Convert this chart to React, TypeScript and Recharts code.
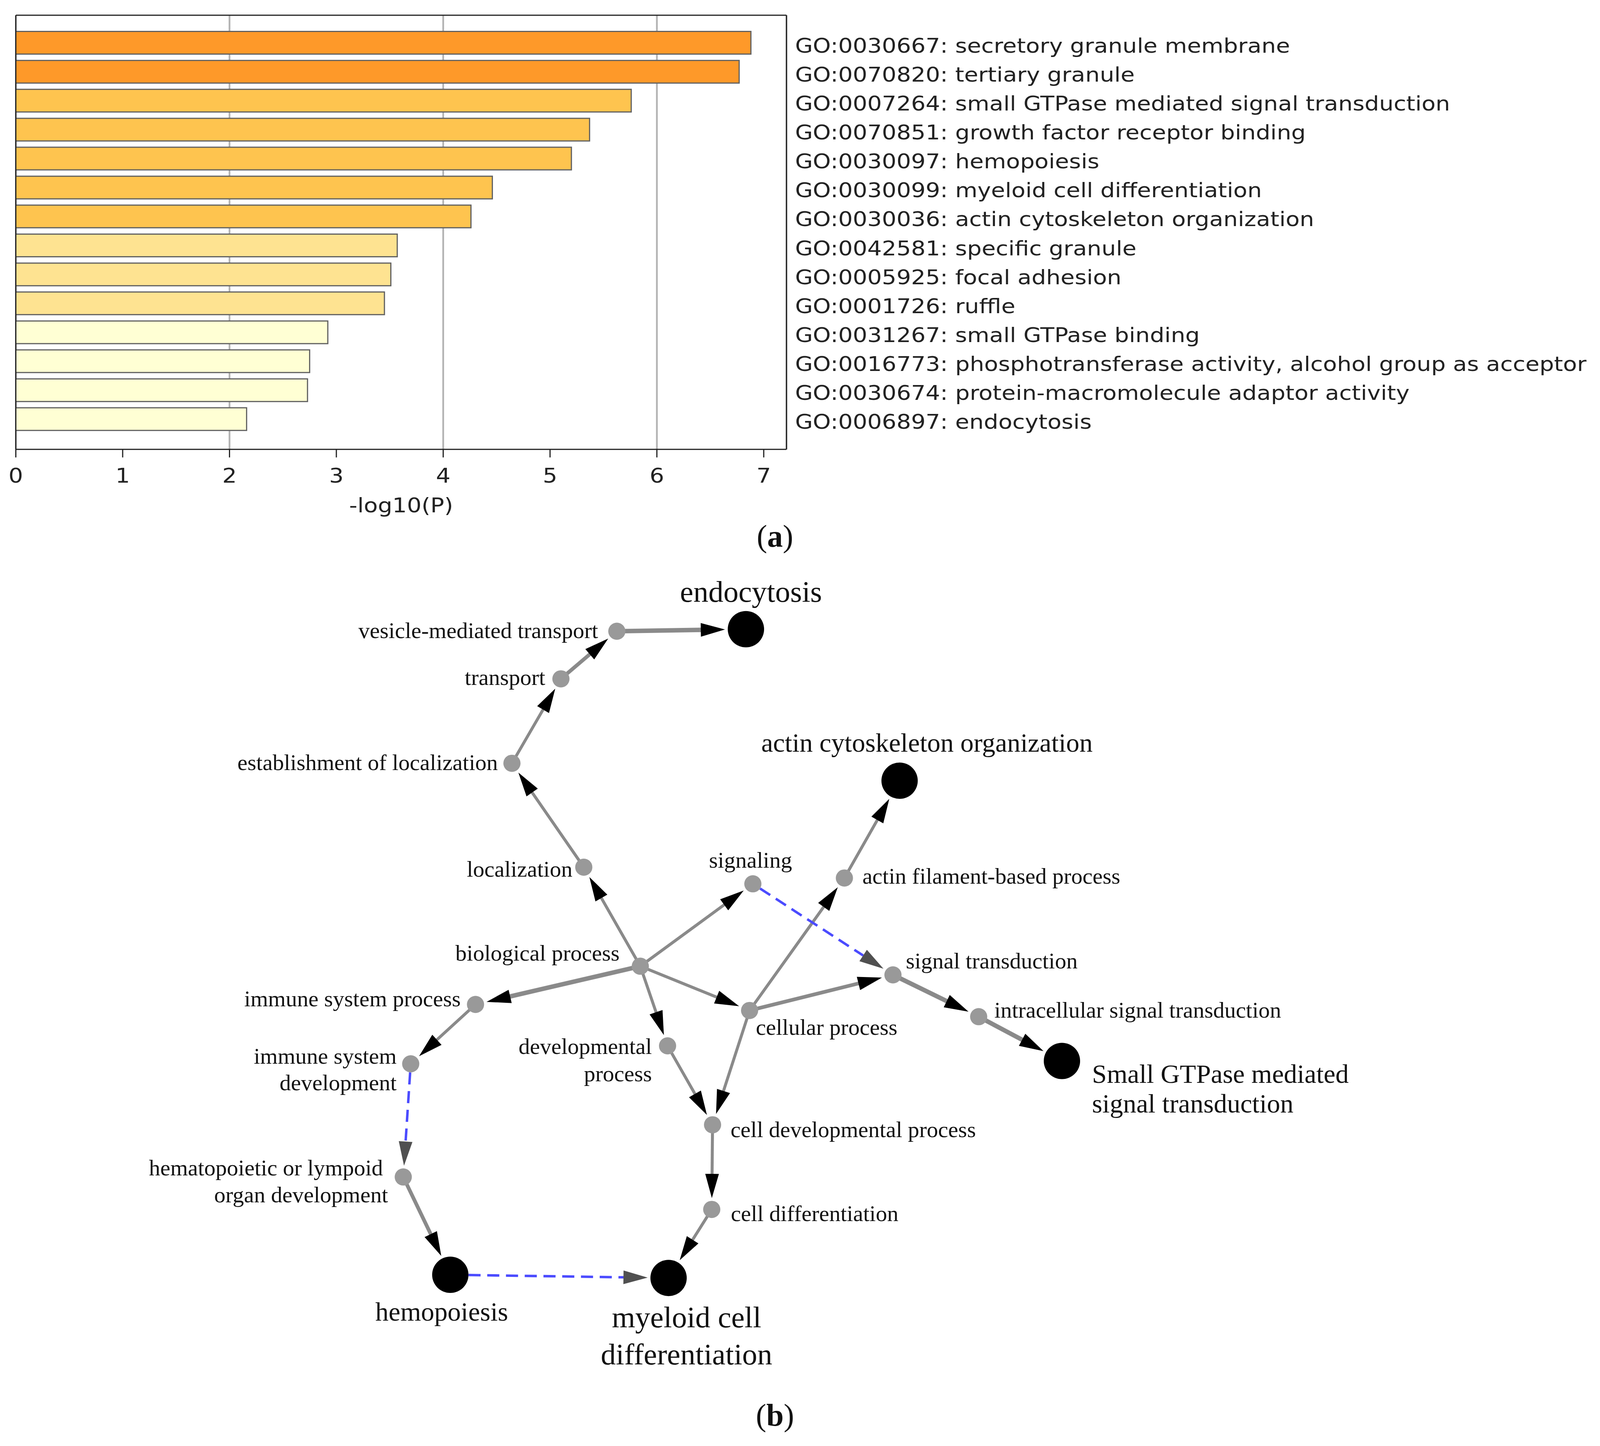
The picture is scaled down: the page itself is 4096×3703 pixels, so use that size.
import React from "react";
import { Bar, BarChart, CartesianGrid, Cell, Label, Scatter, ScatterChart, XAxis, YAxis } from "recharts";

// ---- panel (a): enrichment bars ----
const goTerms = [
  "GO:0030667: secretory granule membrane",
  "GO:0070820: tertiary granule",
  "GO:0007264: small GTPase mediated signal transduction",
  "GO:0070851: growth factor receptor binding",
  "GO:0030097: hemopoiesis",
  "GO:0030099: myeloid cell differentiation",
  "GO:0030036: actin cytoskeleton organization",
  "GO:0042581: specific granule",
  "GO:0005925: focal adhesion",
  "GO:0001726: ruffle",
  "GO:0031267: small GTPase binding",
  "GO:0016773: phosphotransferase activity, alcohol group as acceptor",
  "GO:0030674: protein-macromolecule adaptor activity",
  "GO:0006897: endocytosis",
];
const logP = [6.88, 6.77, 5.76, 5.37, 5.2, 4.46, 4.26, 3.57, 3.51, 3.45, 2.92, 2.75, 2.73, 2.16];
const xTicks = [0, 1, 2, 3, 4, 5, 6, 7];
const gridTicks = [2, 4, 6];
const xMax = 7.213;

// ---- panel (b): GO hierarchy ----
const graphNodes = [
  { id: "endocytosis", x: 731, y: 617 },
  { id: "vesicle-mediated transport", x: 604.5, y: 619 },
  { id: "transport", x: 549.7, y: 665.7 },
  { id: "establishment of localization", x: 501.7, y: 748.5 },
  { id: "localization", x: 572.1, y: 850.4 },
  { id: "signaling", x: 737.8, y: 866.7 },
  { id: "biological process", x: 627.5, y: 947.5 },
  { id: "immune system process", x: 466, y: 985 },
  { id: "immune system development", x: 402.5, y: 1043.2 },
  { id: "developmental process", x: 654.2, y: 1025.6 },
  { id: "cellular process", x: 734.6, y: 990.9 },
  { id: "actin cytoskeleton organization", x: 881.6, y: 765.6 },
  { id: "actin filament-based process", x: 827.5, y: 861 },
  { id: "signal transduction", x: 875.1, y: 956 },
  { id: "intracellular signal transduction", x: 959.1, y: 997 },
  { id: "Small GTPase mediated signal transduction", x: 1040.7, y: 1040.4 },
  { id: "cell developmental process", x: 698.3, y: 1103 },
  { id: "cell differentiation", x: 697.5, y: 1186 },
  { id: "hematopoietic or lympoid organ development", x: 395.2, y: 1154.2 },
  { id: "hemopoiesis", x: 441.3, y: 1250.1 },
  { id: "myeloid cell differentiation", x: 655.2, y: 1253.2 },
];

const enrichedTerms = [
  "endocytosis",
  "actin cytoskeleton organization",
  "Small GTPase mediated signal transduction",
  "hemopoiesis",
  "myeloid cell differentiation",
];

// [source, target, relation]
const graphEdges: [string, string, string][] = [
  ["vesicle-mediated transport", "endocytosis", "is_a"],
  ["transport", "vesicle-mediated transport", "is_a"],
  ["establishment of localization", "transport", "is_a"],
  ["localization", "establishment of localization", "is_a"],
  ["biological process", "localization", "is_a"],
  ["biological process", "signaling", "is_a"],
  ["biological process", "immune system process", "is_a"],
  ["biological process", "developmental process", "is_a"],
  ["biological process", "cellular process", "is_a"],
  ["immune system process", "immune system development", "is_a"],
  ["hematopoietic or lympoid organ development", "hemopoiesis", "is_a"],
  ["developmental process", "cell developmental process", "is_a"],
  ["cellular process", "cell developmental process", "is_a"],
  ["cellular process", "actin filament-based process", "is_a"],
  ["cellular process", "signal transduction", "is_a"],
  ["actin filament-based process", "actin cytoskeleton organization", "is_a"],
  ["signal transduction", "intracellular signal transduction", "is_a"],
  ["intracellular signal transduction", "Small GTPase mediated signal transduction", "is_a"],
  ["cell developmental process", "cell differentiation", "is_a"],
  ["cell differentiation", "myeloid cell differentiation", "is_a"],
  ["signaling", "signal transduction", "related"],
  ["immune system development", "hematopoietic or lympoid organ development", "related"],
  ["hemopoiesis", "myeloid cell differentiation", "related"],
];

// ---- styling ----
const SANS = "DejaVu Sans";
const SERIF = "Liberation Serif";
const STRETCH = 1.15;
const FRAME = "#222";
const SMALL_R = 22;
const BIG_R = 46.5;
const ARROW_LEN = 62;
const ARROW_HALF = 17.5;
const ARROW_GAP = 7;

const heavyEdges = [
  "vesicle-mediated transport>endocytosis",
  "biological process>immune system process",
  "signal transduction>intracellular signal transduction",
  "intracellular signal transduction>Small GTPase mediated signal transduction",
];
const mediumEdges = [
  "transport>vesicle-mediated transport",
  "hematopoietic or lympoid organ development>hemopoiesis",
  "cellular process>signal transduction",
];

type LabelSpec = { lines: string[]; anchor: "start" | "middle" | "end"; dx: number[]; dy: number; lh?: number; size?: number };

const labelLayout: Record<string, LabelSpec> = {
  endocytosis: { lines: ["endocytosis"], anchor: "middle", dx: [13], dy: -70, size: 77 },
  "vesicle-mediated transport": { lines: ["vesicle-mediated transport"], anchor: "end", dx: [-48], dy: 18 },
  transport: { lines: ["transport"], anchor: "end", dx: [-40], dy: 16 },
  "establishment of localization": { lines: ["establishment of localization"], anchor: "end", dx: [-36], dy: 17 },
  localization: { lines: ["localization"], anchor: "end", dx: [-29], dy: 24 },
  signaling: { lines: ["signaling"], anchor: "middle", dx: [-6], dy: -41 },
  "biological process": { lines: ["biological process"], anchor: "end", dx: [-53], dy: -14 },
  "immune system process": { lines: ["immune system process"], anchor: "end", dx: [-38], dy: 5 },
  "immune system development": { lines: ["immune system", "development"], anchor: "end", dx: [-36, -36], dy: 0, lh: 68 },
  "developmental process": { lines: ["developmental", "process"], anchor: "end", dx: [-40, -40], dy: 21, lh: 70 },
  "cellular process": { lines: ["cellular process"], anchor: "start", dx: [16], dy: 62 },
  "actin cytoskeleton organization": { lines: ["actin cytoskeleton organization"], anchor: "middle", dx: [70], dy: -74, size: 68 },
  "actin filament-based process": { lines: ["actin filament-based process"], anchor: "start", dx: [46], dy: 15 },
  "signal transduction": { lines: ["signal transduction"], anchor: "start", dx: [33], dy: -17 },
  "intracellular signal transduction": { lines: ["intracellular signal transduction"], anchor: "start", dx: [40], dy: 2 },
  "Small GTPase mediated signal transduction": {
    lines: ["Small GTPase mediated", "signal transduction"],
    anchor: "start",
    dx: [77, 77],
    dy: 56,
    lh: 76,
    size: 68,
  },
  "cell developmental process": { lines: ["cell developmental process"], anchor: "start", dx: [46], dy: 32 },
  "cell differentiation": { lines: ["cell differentiation"], anchor: "start", dx: [49], dy: 30 },
  "hematopoietic or lympoid organ development": {
    lines: ["hematopoietic or lympoid", "organ development"],
    anchor: "end",
    dx: [-52, -39],
    dy: -4,
    lh: 68.5,
  },
  hemopoiesis: { lines: ["hemopoiesis"], anchor: "middle", dx: [-22], dy: 117, size: 68 },
  "myeloid cell differentiation": {
    lines: ["myeloid cell", "differentiation"],
    anchor: "middle",
    dx: [46, 46],
    dy: 126,
    lh: 95,
    size: 77,
  },
};

const barRows = goTerms.map((term, i) => ({ term, logp: logP[i] }));
const nodeById: Record<string, { id: string; x: number; y: number }> = {};
graphNodes.forEach((n) => (nodeById[n.id] = n));

function binColor(v: number) {
  if (v >= 6) return "#fe9929";
  if (v >= 4) return "#fec44f";
  if (v >= 3) return "#fee391";
  return "#ffffd4";
}

function radiusOf(id: string) {
  return enrichedTerms.includes(id) ? BIG_R : SMALL_R;
}

function XTick({ x, y, payload }: any) {
  return (
    <g transform={`translate(${x},${y})`}>
      <text x={0} y={0} dy={37.5} textAnchor="middle" fontSize={51} fontFamily={SANS} fill="#222" transform={`scale(${STRETCH},1)`}>
        {payload.value}
      </text>
    </g>
  );
}

// grid-only axis: ticks must exist for the grid, but draw nothing
const blankTick = () => <g />;

function TermTick({ x, y, payload }: any) {
  return (
    <g transform={`translate(${x},${y})`}>
      <text x={0} y={0} dy={25} textAnchor="start" fontSize={51} fontFamily={SANS} fill="#222" transform={`scale(${STRETCH},1)`}>
        {payload.value}
      </text>
    </g>
  );
}

function AxisTitle({ viewBox }: any) {
  const vb = viewBox || { x: 0, y: 0, width: 0 };
  return (
    <g transform={`translate(${vb.x + vb.width / 2},${vb.y + 160.7})`}>
      <text x={0} y={0} textAnchor="middle" fontSize={51} fontFamily={SANS} fill="#222" transform={`scale(${STRETCH},1)`}>
        -log10(P)
      </text>
    </g>
  );
}

function edgeLine(edge: [string, string, string]) {
  const [src, tgt, relation] = edge;
  const key = `${src}>${tgt}`;
  const dashed = relation !== "is_a";
  const width = dashed ? 6.3 : heavyEdges.includes(key) ? 11.5 : mediumEdges.includes(key) ? 9.5 : 7.6;
  return (props: any) => {
    const pts = props.points || [];
    if (pts.length < 2) return <g />;
    const a = pts[0];
    const b = pts[1];
    const len = Math.hypot(b.x - a.x, b.y - a.y);
    const ux = (b.x - a.x) / len;
    const uy = (b.y - a.y) / len;
    const tipD = len - radiusOf(tgt) - ARROW_GAP;
    const baseD = tipD - ARROW_LEN;
    const startD = dashed ? radiusOf(src) : 0;
    const tx = a.x + ux * tipD;
    const ty = a.y + uy * tipD;
    const bx = a.x + ux * baseD;
    const by = a.y + uy * baseD;
    const nx = -uy * ARROW_HALF;
    const ny = ux * ARROW_HALF;
    return (
      <g>
        <line
          x1={a.x + ux * startD}
          y1={a.y + uy * startD}
          x2={a.x + ux * (baseD + (dashed ? 0 : 6))}
          y2={a.y + uy * (baseD + (dashed ? 0 : 6))}
          stroke={dashed ? "#4b4bff" : "#8a8a8a"}
          strokeWidth={width}
          strokeDasharray={dashed ? "31 17" : undefined}
        />
        <path
          d={`M${tx},${ty} L${bx + nx},${by + ny} L${bx - nx},${by - ny} Z`}
          fill={dashed ? "#505050" : "#000"}
        />
      </g>
    );
  };
}

function NodeShape({ cx, cy, payload }: any) {
  const big = enrichedTerms.includes(payload.id);
  const spec = labelLayout[payload.id];
  const size = spec?.size ?? 58;
  const lh = spec?.lh ?? 0;
  return (
    <g>
      <circle cx={cx} cy={cy} r={big ? BIG_R : SMALL_R} fill={big ? "#000" : "#999"} />
      {spec &&
        spec.lines.map((line, i) => (
          <text
            key={line}
            x={cx + spec.dx[i]}
            y={cy + spec.dy + i * lh}
            textAnchor={spec.anchor}
            fontSize={size}
            fontFamily={SERIF}
            fill="#111"
          >
            {line}
          </text>
        ))}
    </g>
  );
}

const hideShape = () => <g />;

export default function App() {
  return (
    <div style={{ position: "absolute", left: 0, top: 0, width: 4096, height: 3703, background: "#fff", overflow: "hidden" }}>
      <div style={{ position: "absolute", left: 0, top: 0 }}>
        <BarChart
          width={4096}
          height={1420}
          data={barRows}
          layout="vertical"
          barSize={58}
          margin={{ top: 38, right: 0, bottom: 0, left: 39.5 }}
        >
          <CartesianGrid xAxisId="top" yAxisId="frame" horizontal={false} stroke="#b3b3b3" strokeWidth={4.5} />
          <XAxis
            xAxisId="main"
            type="number"
            domain={[0, xMax]}
            allowDataOverflow
            ticks={xTicks}
            height={269.2}
            tickSize={20.6}
            tickMargin={26.6}
            tick={<XTick />}
            axisLine={{ stroke: FRAME, strokeWidth: 3 }}
            tickLine={{ stroke: FRAME, strokeWidth: 3 }}
          >
            <Label content={<AxisTitle />} />
          </XAxis>
          <XAxis
            xAxisId="top"
            orientation="top"
            type="number"
            domain={[0, xMax]}
            allowDataOverflow
            ticks={gridTicks}
            interval={0}
            height={1}
            tick={blankTick}
            tickLine={false}
            axisLine={{ stroke: FRAME, strokeWidth: 3 }}
          />
          <YAxis
            yAxisId="cat"
            orientation="right"
            type="category"
            dataKey="term"
            width={2082.6}
            padding={{ top: 33.6, bottom: 40.4 }}
            tickSize={0}
            tickMargin={22}
            tickLine={false}
            tick={<TermTick />}
            interval={0}
            axisLine={{ stroke: FRAME, strokeWidth: 3 }}
          />
          <YAxis
            yAxisId="frame"
            orientation="left"
            type="number"
            domain={[0, 1]}
            allowDataOverflow
            width={1}
            tick={false}
            tickLine={false}
            axisLine={{ stroke: FRAME, strokeWidth: 3 }}
          />
          <Bar dataKey="logp" xAxisId="main" yAxisId="cat" stroke="#606060" strokeWidth={3} isAnimationActive={false}>
            {barRows.map((row) => (
              <Cell key={row.term} fill={binColor(row.logp)} />
            ))}
          </Bar>
        </BarChart>
      </div>

      <div style={{ position: "absolute", left: 0, top: 0 }}>
        <ScatterChart width={4096} height={3703} margin={{ top: 0, right: 0, bottom: 0, left: 0 }}>
          <XAxis type="number" dataKey="x" domain={[0, 1568]} allowDataOverflow hide />
          <YAxis type="number" dataKey="y" domain={[0, 1418]} allowDataOverflow reversed hide />
          {graphEdges.map((e) => (
            <Scatter
              key={`${e[0]}>${e[1]}`}
              data={[nodeById[e[0]], nodeById[e[1]]]}
              line={edgeLine(e)}
              shape={hideShape}
              isAnimationActive={false}
            />
          ))}
          <Scatter data={graphNodes} shape={<NodeShape />} isAnimationActive={false} />
        </ScatterChart>
      </div>

      <svg width={4096} height={3703} style={{ position: "absolute", left: 0, top: 0, pointerEvents: "none" }}>
        <text x={1984} y={1400} textAnchor="middle" fontFamily={SERIF} fontSize={80} fill="#111">
          (<tspan fontWeight="bold">a</tspan>)
        </text>
        <text x={1984} y={3651} textAnchor="middle" fontFamily={SERIF} fontSize={80} fill="#111">
          (<tspan fontWeight="bold">b</tspan>)
        </text>
      </svg>
    </div>
  );
}
